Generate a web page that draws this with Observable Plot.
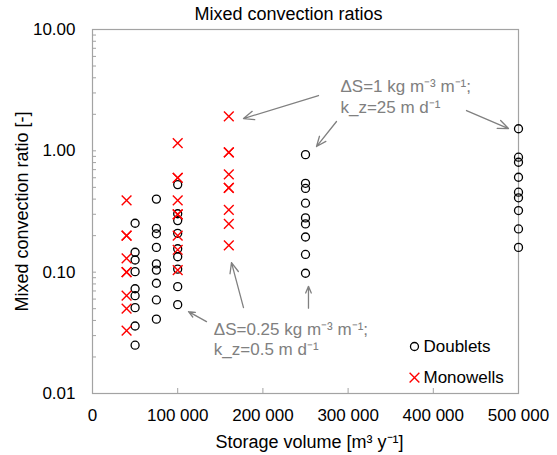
<!DOCTYPE html>
<html>
<head>
<meta charset="utf-8">
<script src="https://cdn.jsdelivr.net/npm/d3@7"></script>
<script src="https://cdn.jsdelivr.net/npm/@observablehq/plot@0.6"></script>
<style>
  html, body { margin: 0; padding: 0; background: #fff; }
</style>
</head>
<body>
<div id="chart"></div>
<script>
// ---- data ----
const title = "Mixed convection ratios";
const xLabel = "Storage volume [m³ y⁻¹]";
const yLabel = "Mixed convection ratio [-]";

const doubletVolumes = [50000, 75000, 100000, 250000, 500000];
const doubletRatios = [
  [0.253, 0.146, 0.126, 0.101, 0.073, 0.064, 0.051, 0.036, 0.025],
  [0.40, 0.23, 0.207, 0.16, 0.117, 0.104, 0.081, 0.059, 0.041],
  [0.527, 0.303, 0.266, 0.209, 0.156, 0.134, 0.106, 0.076, 0.054],
  [0.93, 0.54, 0.49, 0.37, 0.28, 0.25, 0.195, 0.14, 0.098],
  [1.52, 0.886, 0.805, 0.606, 0.456, 0.41, 0.322, 0.227, 0.160]
];

const monowellVolumes = [40000, 100000, 160000];
const monowellRatios = [
  [0.39, 0.2, 0.2, 0.13, 0.1, 0.1, 0.064, 0.05, 0.033],
  [1.16, 0.6, 0.6, 0.39, 0.3, 0.3, 0.2, 0.153, 0.104],
  [1.92, 0.97, 0.97, 0.64, 0.495, 0.495, 0.326, 0.25, 0.166]
];

const xTicks = [0, 100000, 200000, 300000, 400000, 500000];
const yTicks = [0.01, 0.1, 1, 10];
const yTickLabels = ["0.01", "0.10", "1.00", "10.00"];

// annotations (data coordinates)
const noteTexts = ["ΔS=1 kg m⁻³ m⁻¹;\nk_z=25 m d⁻¹", "ΔS=0.25 kg m⁻³ m⁻¹;\nk_z=0.5 m d⁻¹"];
const noteX = [291000, 142400];
const noteY = [2.83, 0.0285];

const arrowX1 = [265250, 286390, 438960, 133800, 177230, 253500];
const arrowY1 = [2.857, 1.744, 2.148, 0.0391, 0.0511, 0.0505];
const arrowX2 = [177230, 262910, 488260, 112680, 163140, 253500];
const arrowY2 = [1.846, 1.085, 1.527, 0.0473, 0.120, 0.0765];

const legendLabels = ["Doublets", "Monowells"];
const legendX = [377900, 377900];
const legendY = [0.0244, 0.01352];

// ---- build tables ----
const doublets = doubletVolumes.flatMap((v, i) => doubletRatios[i].map(r => ({volume: v, ratio: r})));
const monowells = monowellVolumes.flatMap((v, i) => monowellRatios[i].map(r => ({volume: v, ratio: r})));
const notes = noteTexts.map((t, i) => ({text: t, x: noteX[i], y: noteY[i]}));
const arrows = arrowX1.map((x1, i) => ({x1, y1: arrowY1[i], x2: arrowX2[i], y2: arrowY2[i]}));
const legend = legendLabels.map((l, i) => ({label: l, x: legendX[i], y: legendY[i]}));

const yMinor = [];
for (const base of [0.01, 0.1, 1]) for (let k = 1; k <= 9; k++) yMinor.push(base * k);
yMinor.push(10);

const fmtX = d3.formatLocale({thousands: "\u00a0", grouping: [3], decimal: "."}).format(",d");
const frameGray = "#a3a3a3";
const noteGray = "#808080";

const chart = Plot.plot({
  width: 557,
  height: 455,
  marginLeft: 92,
  marginRight: 39,
  marginTop: 29,
  marginBottom: 62,
  style: {fontFamily: "'Liberation Sans', Arial, sans-serif", fontSize: "17px", color: "#000", background: "#fff"},
  x: {domain: [0, 500000]},
  y: {type: "log", domain: [0.01, 10]},
  marks: [
    Plot.frame({stroke: frameGray, strokeWidth: 1.2}),
    Plot.axisX({ticks: xTicks.slice(1, -1), tickSize: 5, dy: -5, text: null, label: null, stroke: frameGray}),
    Plot.axisX({ticks: xTicks, tickSize: 0, tickPadding: 15, tickFormat: fmtX, label: null, fontSize: 17}),
    Plot.axisY({ticks: yMinor, tickSize: 4, dx: 4, text: null, label: null, stroke: frameGray}),
    Plot.axisY({ticks: yTicks, tickSize: 0, tickPadding: 17, tickFormat: (d) => yTickLabels[yTicks.indexOf(d)], label: null, fontSize: 17}),
    Plot.text([title], {frameAnchor: "top", lineAnchor: "middle", dy: -15, dx: -17, fontSize: 18}),
    Plot.text([xLabel], {frameAnchor: "bottom", lineAnchor: "middle", dy: 49, dx: 4, fontSize: 18}),
    Plot.text([yLabel], {frameAnchor: "left", textAnchor: "middle", lineAnchor: "middle", dx: -70, rotate: -90, fontSize: 18}),
    Plot.dot(doublets, {x: "volume", y: "ratio", r: 4, stroke: "#000", strokeWidth: 1.3, fill: "none"}),
    Plot.dot(monowells, {x: "volume", y: "ratio", symbol: "times", r: 4.5, stroke: "#ff0000", strokeWidth: 1.4}),
    Plot.arrow(arrows, {x1: "x1", y1: "y1", x2: "x2", y2: "y2", stroke: noteGray, strokeWidth: 1.3, headLength: 13, headAngle: 45}),
    Plot.text(notes, {x: "x", y: "y", text: "text", textAnchor: "start", lineAnchor: "middle", lineHeight: 1.2, fill: noteGray, fontSize: 17}),
    Plot.dot(legend.slice(0, 1), {x: "x", y: "y", r: 4, stroke: "#000", strokeWidth: 1.3, fill: "none"}),
    Plot.dot(legend.slice(1), {x: "x", y: "y", symbol: "times", r: 4.5, stroke: "#ff0000", strokeWidth: 1.4}),
    Plot.text(legend, {x: "x", y: "y", text: "label", textAnchor: "start", dx: 9, fill: "#000", fontSize: 17})
  ]
});
document.getElementById("chart").appendChild(chart);
</script>
</body>
</html>
